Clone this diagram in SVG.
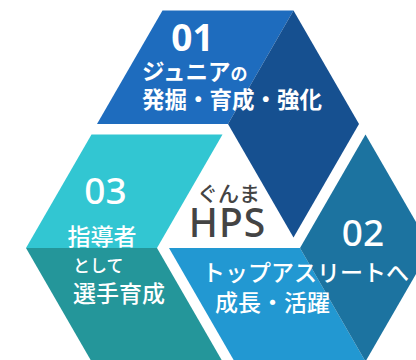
<svg xmlns="http://www.w3.org/2000/svg" width="416" height="360" viewBox="0 0 416 360">
<style>
.t{font-family:"Noto Sans CJK JP","Noto Sans",sans-serif;fill:#fff}
.num{font-family:"Noto Sans","Noto Sans CJK JP",sans-serif;font-size:37px;fill:#fff;text-anchor:middle}
.lbl{font-size:23px;font-weight:500}
.c{font-family:"Noto Sans CJK JP","Noto Sans",sans-serif;fill:#444}
</style>
<rect width="416" height="360" fill="#fff"/>
<g id="node-01">
<polygon points="97,124 162.5,10.5 293.5,10.5 228,124" fill="#1E6CBE"/>
<polygon points="228,124 293.5,10.5 359,124 293.5,237.5" fill="#165090"/>
<text class="num" x="192.5" y="51" font-weight="700">01</text>
<text class="t" x="142" y="80" font-size="22.5" font-weight="700">ジュニア<tspan font-size="17">の</tspan></text>
<text class="t" x="142" y="108" font-size="22.5" font-weight="700">発掘・育成・強化</text>
</g>
<g id="node-03">
<polygon points="26,248 91.5,134.5 222.5,134.5 157,248" fill="#32C6D2"/>
<polygon points="26,248 157,248 222.5,361.5 91.5,361.5" fill="#24969A"/>
<text class="num" x="105.5" y="204" font-weight="500">03</text>
<text class="t lbl" x="102" y="245" text-anchor="middle">指導者</text>
<text class="t" x="73" y="272" font-size="17" font-weight="500">として</text>
<text class="t lbl" x="73" y="302">選手育成</text>
</g>
<g id="node-02">
<polygon points="169,248 300,248 365.5,361.5 234.5,361.5" fill="#2298D2"/>
<polygon points="300,248 365.5,134.5 431,248 365.5,361.5" fill="#1C73A0"/>
<text class="num" x="363" y="246" font-weight="500">02</text>
<text class="t lbl" x="202" y="281" font-size="22.5">トップアスリートへ</text>
<text class="t lbl" x="215" y="311">成長・活躍</text>
</g>
<g id="node-center">
<text class="c" x="228.5" y="201" font-size="21" font-weight="500" text-anchor="middle">ぐんま</text>
<text x="227.5" y="237" font-family="'Noto Sans',sans-serif" font-size="39" font-weight="500" fill="#444" text-anchor="middle" letter-spacing="1">HPS</text>
</g>
</svg>
